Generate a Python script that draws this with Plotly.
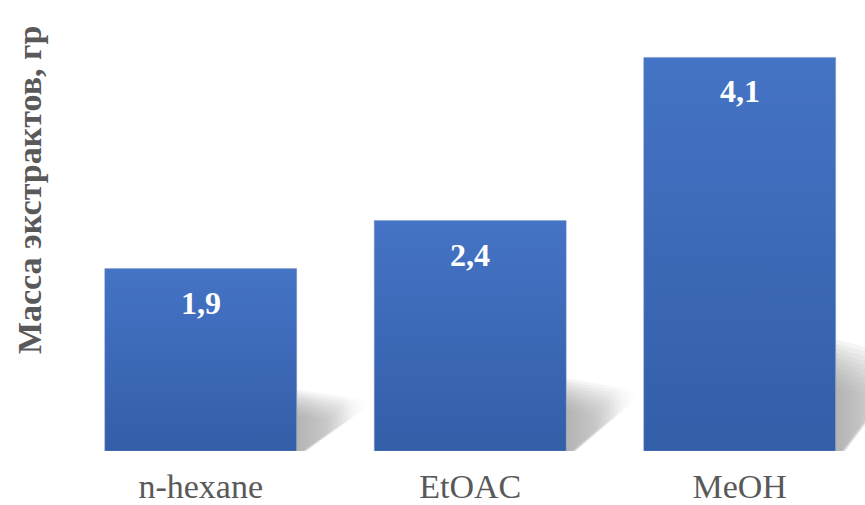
import plotly.graph_objects as go

categories = ["n-hexane", "EtOAC", "MeOH"]
values = [1.9, 2.4, 4.1]
y_title = "Масса экстрактов, гр"

labels = [f"{v:.1f}".replace(".", ",") for v in values]
positions = list(range(len(categories)))
bar_width = 0.712
half = bar_width / 2

fig = go.Figure()

# soft cast shadows behind bars (many thin layers to imitate blur)
layer_scales = [1.2 - 0.05 * k for k in range(11)]
for i, v in zip(positions, values):
    r = i + half
    top = 0.2 * v + 0.15
    for s in layer_scales:
        fig.add_trace(go.Scatter(
            x=[r, r, r + 0.245 * s, r + 0.03 * s, r],
            y=[0, top * s, top * 0.82 * s, 0, 0],
            mode="lines", line=dict(width=0), fill="toself",
            fillgradient=dict(type="horizontal",
                              colorscale=[[0, "rgba(150,150,150,0.11)"],
                                          [0.6, "rgba(170,170,170,0.08)"],
                                          [1, "rgba(255,255,255,0)"]]),
            hoverinfo="skip", showlegend=False,
        ))

fig.add_trace(go.Bar(
    x=positions, y=values,
    marker=dict(color="#3c69b8", line=dict(color="#8aa3cf", width=0.6)),
    width=bar_width,
    hoverinfo="skip", showlegend=False,
))

# vertical gradient shading over each bar
for i, v in zip(positions, values):
    fig.add_trace(go.Scatter(
        x=[i - half + 0.002, i - half + 0.002, i + half - 0.002, i + half - 0.002, i - half + 0.002],
        y=[0.005, v - 0.005, v - 0.005, 0.005, 0.005],
        mode="lines", line=dict(width=0), fill="toself",
        fillgradient=dict(type="vertical",
                          colorscale=[[0, "#335ea8"], [1, "#4573c5"]]),
        hoverinfo="skip", showlegend=False,
    ))

for i, v, t in zip(positions, values, labels):
    fig.add_annotation(x=i, y=v, text=f"<b>{t}</b>", showarrow=False,
                       yanchor="top", yshift=-14,
                       font=dict(family="Liberation Serif", size=32, color="white"))

fig.add_annotation(xref="paper", yref="paper", x=0, y=0.604, xshift=-37,
                   text=f"<b>{y_title}</b>", textangle=-90, showarrow=False,
                   xanchor="center", yanchor="middle",
                   font=dict(family="Liberation Serif", size=34, color="#595959"))

fig.update_layout(
    width=865, height=505,
    margin=dict(l=66, r=0, t=19, b=54),
    paper_bgcolor="white", plot_bgcolor="white",
    showlegend=False,
    xaxis=dict(range=[-0.5, 2.465], showline=False, showgrid=False, zeroline=False,
               ticks="", tickmode="array", tickvals=positions, ticktext=categories,
               ticklabelstandoff=12,
               tickfont=dict(family="Liberation Serif", size=34, color="#595959")),
    yaxis=dict(range=[0, 4.5], showgrid=False, showticklabels=False, zeroline=False,
               showline=False),
)

fig.write_html("out.html")
